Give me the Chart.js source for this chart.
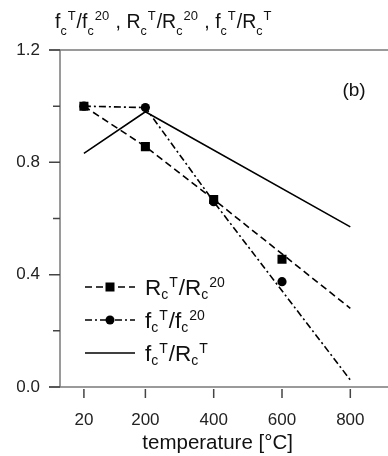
<!DOCTYPE html>
<html>
<head>
<meta charset="utf-8">
<script src="https://cdn.jsdelivr.net/npm/chart.js@4.4.1/dist/chart.umd.min.js"></script>
<style>
  html, body { margin: 0; padding: 0; background: #fff; }
  #wrap { width: 388px; height: 456px; }
</style>
</head>
<body>
<div id="wrap"><canvas id="chart" width="388" height="456"></canvas></div>
<script>
// temperatures (°C)
const xTicks = [20, 200, 400, 600, 800];
const yTicks = [0, 0.2, 0.4, 0.6, 0.8, 1.0, 1.2];

// Rc^T / Rc^20 : measured points and fitted line
const rPointsT = [20, 200, 400, 600];
const rPoints = [1.0, 0.856, 0.668, 0.455];
const rLineT = [20, 200, 400, 800];
const rLine = [1.0, 0.856, 0.668, 0.28];

// fc^T / fc^20 : measured points and fitted line
const fPointsT = [20, 200, 400, 600];
const fPoints = [1.0, 0.995, 0.66, 0.375];
const fLineT = [20, 200, 400, 800];
const fLine = [1.0, 0.995, 0.66, 0.025];

// fc^T / Rc^T
const ratioT = [20, 200, 800];
const ratio = [0.832, 0.98, 0.57];

const xy = (xs, ys) => xs.map((x, i) => ({ x: x, y: ys[i] }));

const FONT = '"Liberation Sans", Arial, sans-serif';
const DASH_R = [7, 4];
const DASH_F = [7, 3, 2, 3];

// draws text with subscripts / superscripts, one piece after another
function richText(ctx, x, y, parts, st) {
    ctx.textAlign = 'left';
    ctx.textBaseline = 'alphabetic';
    parts.forEach(p => {
        const s = p[1] || 'n';
        let fs = st.size, dy = 0;
        if (s === 'sub') { fs = st.subSize; dy = st.subDy; }
        if (s === 'sup') { fs = st.supSize; dy = st.supDy; }
        ctx.font = fs + 'px ' + FONT;
        ctx.fillText(p[0], x, y + dy);
        x += ctx.measureText(p[0]).width + (s === 'n' ? 0 : 1);
    });
}

const labelR = [['R'], ['c', 'sub'], ['T', 'sup'], ['/R'], ['c', 'sub'], ['20', 'sup']];
const labelF = [['f'], ['c', 'sub'], ['T', 'sup'], ['/f'], ['c', 'sub'], ['20', 'sup']];
const labelRatio = [['f'], ['c', 'sub'], ['T', 'sup'], ['/R'], ['c', 'sub'], ['T', 'sup']];

const decor = {
    id: 'decor',
    afterDraw(chart) {
        const ctx = chart.ctx;
        const xs = chart.scales.x, ys = chart.scales.y;
        const area = chart.chartArea;
        ctx.save();

        // frame
        ctx.strokeStyle = '#7a7a7a';
        ctx.lineWidth = 1.5;
        ctx.beginPath();
        ctx.moveTo(49, area.top); ctx.lineTo(388, area.top);
        ctx.moveTo(49, area.bottom); ctx.lineTo(388, area.bottom);
        ctx.moveTo(area.left, area.top); ctx.lineTo(area.left, area.bottom);
        ctx.stroke();

        // ticks
        ctx.strokeStyle = '#444';
        ctx.lineWidth = 1.5;
        ctx.beginPath();
        yTicks.forEach((v, i) => {
            const py = ys.getPixelForValue(v);
            ctx.moveTo(area.left - (i % 2 === 0 ? 11 : 7), py);
            ctx.lineTo(area.left, py);
        });
        xTicks.forEach(v => {
            const px = xs.getPixelForValue(v);
            ctx.moveTo(px, area.bottom + 2);
            ctx.lineTo(px, area.bottom + 11);
        });
        ctx.stroke();

        // y title on top
        ctx.fillStyle = '#111';
        richText(ctx, 55, 28, [
            ['f'], ['c', 'sub'], ['T', 'sup'], ['/f'], ['c', 'sub'], ['20', 'sup'], [' , R'],
            ['c', 'sub'], ['T', 'sup'], ['/R'], ['c', 'sub'], ['20', 'sup'], [' , f'],
            ['c', 'sub'], ['T', 'sup'], ['/R'], ['c', 'sub'], ['T', 'sup']
        ], { size: 19.5, subSize: 12.5, subDy: 7, supSize: 13, supDy: -8 });

        // panel mark
        ctx.font = '19px ' + FONT;
        ctx.textAlign = 'center';
        ctx.textBaseline = 'middle';
        ctx.fillText('(b)', 354, 91);

        // legend
        const rows = [
            { y: 287, dash: DASH_R, marker: 'rect', label: labelR },
            { y: 320, dash: DASH_F, marker: 'circle', label: labelF },
            { y: 353, dash: [], marker: null, label: labelRatio }
        ];
        rows.forEach(r => {
            ctx.strokeStyle = '#000';
            ctx.lineWidth = 1.6;
            ctx.setLineDash(r.dash);
            ctx.beginPath();
            ctx.moveTo(85, r.y); ctx.lineTo(135, r.y);
            ctx.stroke();
            ctx.setLineDash([]);
            ctx.fillStyle = '#000';
            if (r.marker === 'rect') ctx.fillRect(110 - 4.5, r.y - 4.5, 9, 9);
            if (r.marker === 'circle') { ctx.beginPath(); ctx.arc(110, r.y, 4.5, 0, Math.PI * 2); ctx.fill(); }
            ctx.fillStyle = '#111';
            richText(ctx, 145, r.y + 7.5, r.label, { size: 22.5, subSize: 14, subDy: 4, supSize: 14, supDy: -7.5 });
        });

        ctx.restore();
    }
};

new Chart(document.getElementById('chart').getContext('2d'), {
    type: 'scatter',
    data: {
        datasets: [
            { data: xy(rLineT, rLine), showLine: true, borderColor: '#000', borderWidth: 1.6, borderDash: DASH_R, pointRadius: 0 },
            { data: xy(fLineT, fLine), showLine: true, borderColor: '#000', borderWidth: 1.6, borderDash: DASH_F, pointRadius: 0 },
            { data: xy(ratioT, ratio), showLine: true, borderColor: '#000', borderWidth: 1.6, pointRadius: 0 },
            { data: xy(fPointsT, fPoints), pointStyle: 'circle', pointRadius: 4.6, backgroundColor: '#000', borderColor: '#000', borderWidth: 0 },
            { data: xy(rPointsT, rPoints), pointStyle: 'rect', pointRadius: 6.4, backgroundColor: '#000', borderColor: '#000', borderWidth: 0 }
        ]
    },
    options: {
        responsive: false,
        animation: false,
        layout: { padding: { top: 50, left: 0, right: 0, bottom: 0 } },
        plugins: { legend: { display: false }, tooltip: { enabled: false } },
        scales: {
            x: {
                type: 'linear',
                min: -50,
                max: 873,
                afterBuildTicks: s => { s.ticks = xTicks.map(v => ({ value: v })); },
                afterFit: s => { s.height = 69; },
                grid: { display: false, drawTicks: false },
                border: { display: false },
                ticks: { color: '#222', font: { family: FONT, size: 17 }, padding: 23, maxRotation: 0 },
                title: { display: true, text: 'temperature [°C]', color: '#111', font: { family: FONT, size: 20.5 }, padding: { top: 0, bottom: 0 } }
            },
            y: {
                min: 0,
                max: 1.2,
                afterBuildTicks: s => { s.ticks = yTicks.map(v => ({ value: v })); },
                afterFit: s => { s.width = 60; },
                grid: { display: false, drawTicks: false },
                border: { display: false },
                ticks: {
                    color: '#222',
                    font: { family: FONT, size: 17 },
                    padding: 20,
                    callback: (v, i) => (i % 2 === 0 ? v.toFixed(1) : '')
                }
            }
        }
    },
    plugins: [decor]
});
</script>
</body>
</html>
